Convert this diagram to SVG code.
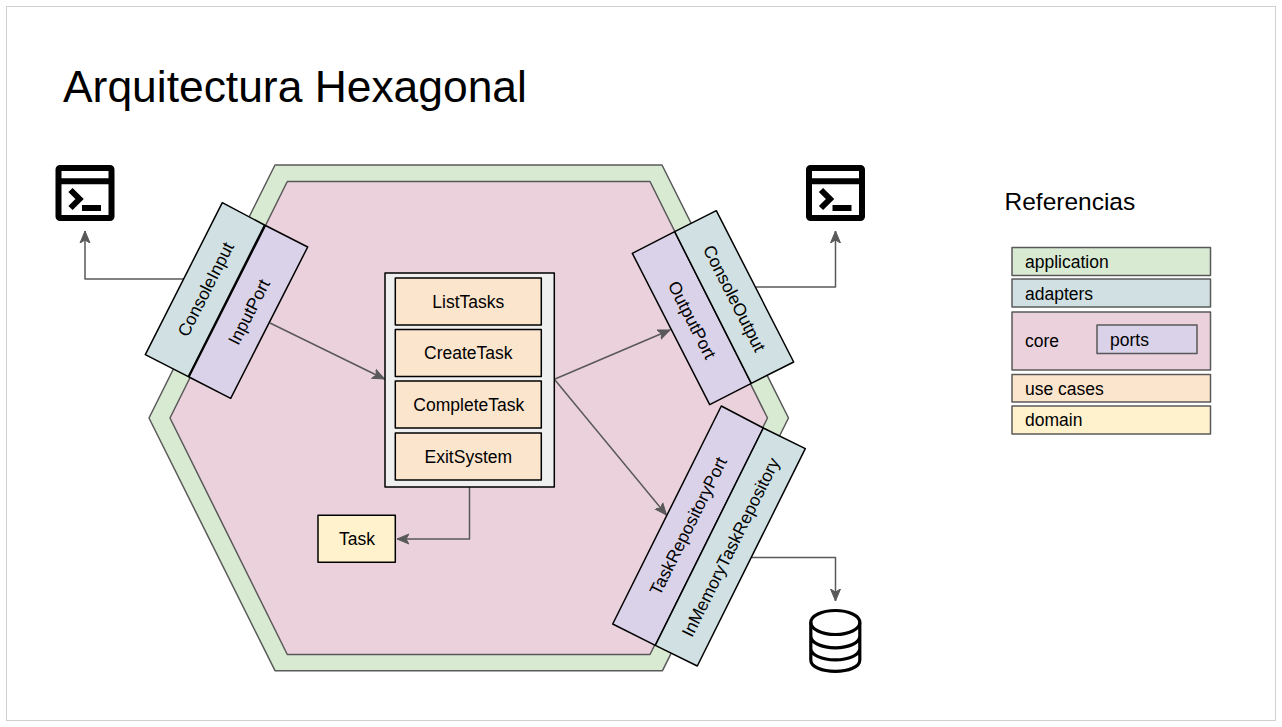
<svg xmlns="http://www.w3.org/2000/svg" width="1282" height="727" viewBox="0 0 1282 727">
<style>
text{font-family:"Liberation Sans",Arial,sans-serif;fill:#000;font-size:17.500px;text-anchor:middle;dominant-baseline:central}
.l{text-anchor:start}
.e{stroke:#000;stroke-width:1.5;stroke-linejoin:round}
.g{stroke:#595959;stroke-width:1.5;stroke-linejoin:round}
.app{fill:#d9ead3}.ad{fill:#d0e0e3}.core{fill:#ead1dc}.port{fill:#d9d2e9}.uc{fill:#fce5cd}.dom{fill:#fff2cc}
.c{fill:none;stroke:#595959;stroke-width:1.5;stroke-linejoin:round}
.ico{fill:none;stroke:#000}
</style>
<defs>
<marker id="a" markerUnits="userSpaceOnUse" markerWidth="14" markerHeight="12" viewBox="0 0 14 12" refX="12" refY="6" orient="auto"><path d="M0 1 L12 6 L0 11 L3 6 Z" fill="#595959" stroke="#595959"/></marker>
<g id="term"><rect x="58.5" y="168" width="53" height="50" rx="1.5" class="ico" stroke-width="6"/><path d="M60 181.300H110" class="ico" stroke-width="6"/><path d="M70.500 190L79.500 199L70.500 208" class="ico" stroke-width="6"/><rect x="82" y="205" width="19" height="6" fill="#000"/></g>
</defs>
<rect x="6.500" y="6.500" width="1269" height="714" fill="#fff" stroke="#d0d0d0" stroke-width="1"/>
<text id="title" class="l" x="63" y="86" style="font-size:44.400px">Arquitectura Hexagonal</text>
<g id="hex-application"><polygon class="g app" points="275,165 662,165 788.500,418 662.500,670.700 275,670.700 149,418"/></g>
<g id="hex-core"><polygon class="g core" points="287.300,181.500 650,181.500 767.500,418 650,654.500 287.300,654.500 170,418"/></g>
<g id="connectors">
<path class="c" d="M185 279H85V231" marker-end="url(#a)"/>
<path class="c" d="M270 323L384.500 379" marker-end="url(#a)"/>
<path class="c" d="M555 379L670 330" marker-end="url(#a)"/>
<path class="c" d="M555 380L666.500 515" marker-end="url(#a)"/>
<path class="c" d="M756 287H835.500V231" marker-end="url(#a)"/>
<path class="c" d="M752 557.500H835.500V601" marker-end="url(#a)"/>
<path class="c" d="M469.500 487V539H397" marker-end="url(#a)"/>
</g>
<g id="consoleInput"><polygon class="e ad" points="222.300,202.700 264.500,225 188.300,376.700 145.300,354.700"/><text transform="translate(205.700 289.300) rotate(-63)">ConsoleInput</text></g>
<g id="inputPort"><polygon class="e port" points="265.500,225.500 307.700,247 230.700,398.300 189,377"/><text transform="translate(249 312) rotate(-63)">InputPort</text></g>
<g id="outputPort"><polygon class="e port" points="632.300,253.300 674.700,231.700 751.300,383.300 709.700,404.700"/><text transform="translate(692 320) rotate(63)">OutputPort</text></g>
<g id="consoleOutput"><polygon class="e ad" points="674.700,231.700 716.300,210.700 793.700,362 751.300,383.300"/><text transform="translate(734.300 298.300) rotate(63)">ConsoleOutput</text></g>
<g id="taskRepositoryPort"><polygon class="e port" points="721.300,406 763.300,428 655.300,645.300 612.700,624"/><text transform="translate(688.300 526) rotate(-63.500)">TaskRepositoryPort</text></g>
<g id="inMemoryTaskRepository"><polygon class="e ad" points="763.300,428 805.300,448.700 697.300,666 655.300,645.300"/><text transform="translate(730.700 547.300) rotate(-63.500)">InMemoryTaskRepository</text></g>
<g id="useCases"><rect class="g" x="385" y="273" width="169.300" height="214" fill="#efefef" style="stroke:#000"/></g>
<g id="listTasks"><rect class="e uc" x="395.300" y="278" width="146" height="47"/><text x="468.300" y="302">ListTasks</text></g>
<g id="createTask"><rect class="e uc" x="395.300" y="329.500" width="146" height="47"/><text x="468.300" y="353">CreateTask</text></g>
<g id="completeTask"><rect class="e uc" x="395.300" y="381" width="146" height="47"/><text x="468.800" y="405">CompleteTask</text></g>
<g id="exitSystem"><rect class="e uc" x="395.300" y="433" width="146" height="47"/><text x="468.300" y="457">ExitSystem</text></g>
<g id="task"><rect class="e dom" x="318" y="515.300" width="77.300" height="47"/><text x="357" y="539">Task</text></g>
<g id="terminal-in"><use href="#term"/></g>
<g id="terminal-out"><use href="#term" x="750.500"/></g>
<g id="database" fill="none" stroke="#000" stroke-width="3.200"><ellipse cx="835.300" cy="622.500" rx="24.500" ry="12"/><path d="M810.800 622.500V660C810.800 667 822 671.300 835.300 671.300S859.800 667 859.800 660V622.500M810.800 636C810.800 643 822 647.800 835.300 647.800S859.800 643 859.800 636M810.800 648.500C810.800 655 822 659.800 835.300 659.800S859.800 655 859.800 648.500"/></g>
<g id="legend">
<text class="l" x="1004.500" y="201" style="font-size:24.500px">Referencias</text>
<g id="leg-application"><rect class="g app" x="1012" y="247.500" width="198.500" height="28"/><text class="l" x="1025" y="262">application</text></g>
<g id="leg-adapters"><rect class="g ad" x="1012" y="279" width="198.500" height="28"/><text class="l" x="1025" y="294">adapters</text></g>
<g id="leg-core"><rect class="g core" x="1012" y="312" width="198.500" height="58"/><text class="l" x="1025" y="341">core</text></g>
<g id="leg-ports"><rect class="g port" x="1097" y="325" width="100" height="28.500"/><text class="l" x="1110" y="340">ports</text></g>
<g id="leg-useCases"><rect class="g uc" x="1012" y="374.500" width="198.500" height="27.500"/><text class="l" x="1025" y="389">use cases</text></g>
<g id="leg-domain"><rect class="g dom" x="1012" y="406" width="198.500" height="28"/><text class="l" x="1025" y="420">domain</text></g>
</g>
</svg>
